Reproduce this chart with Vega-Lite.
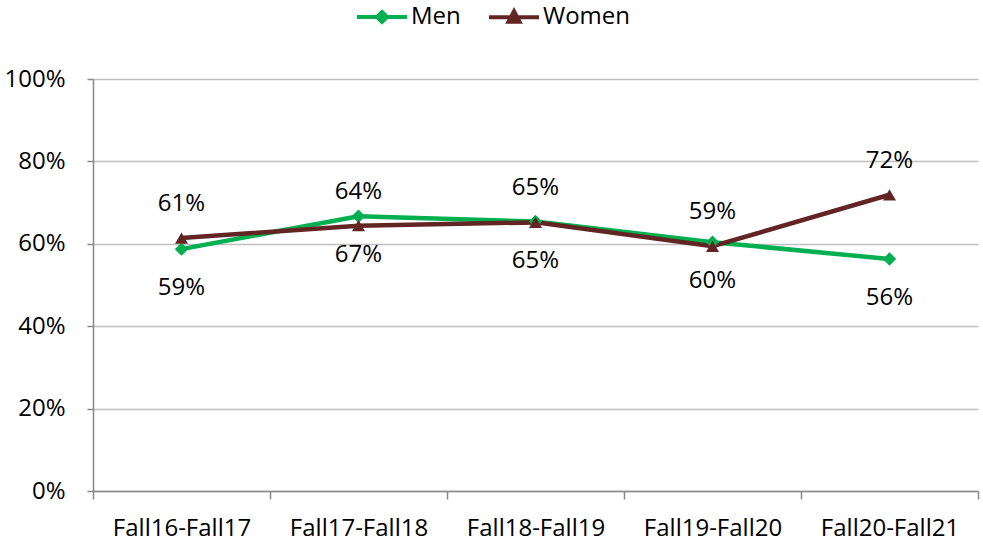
{
  "$schema": "https://vega.github.io/schema/vega-lite/v6.json",
  "autosize": {"type": "none"},
  "width": 885,
  "height": 412,
  "padding": {"left": 93, "top": 79, "right": 5, "bottom": 53},
  "background": "white",
  "config": {
    "view": {"stroke": null},
    "font": "Open Sans",
    "axis": {"labelFont": "Open Sans", "labelFontSize": 24, "labelColor": "#000000", "domainColor": "#898989", "tickColor": "#898989", "gridColor": "#BFBFBF", "domainWidth": 1.5, "tickWidth": 1.5}
  },
  "data": {
    "values": [
      {"period": "Fall16-Fall17", "series": "Men", "value": 0.587},
      {"period": "Fall17-Fall18", "series": "Men", "value": 0.667},
      {"period": "Fall18-Fall19", "series": "Men", "value": 0.654},
      {"period": "Fall19-Fall20", "series": "Men", "value": 0.604},
      {"period": "Fall20-Fall21", "series": "Men", "value": 0.563},
      {"period": "Fall16-Fall17", "series": "Women", "value": 0.614},
      {"period": "Fall17-Fall18", "series": "Women", "value": 0.644},
      {"period": "Fall18-Fall19", "series": "Women", "value": 0.652},
      {"period": "Fall19-Fall20", "series": "Women", "value": 0.594},
      {"period": "Fall20-Fall21", "series": "Women", "value": 0.719}
    ]
  },
  "encoding": {
    "x": {
      "field": "period", "type": "nominal", "sort": null, "title": null,
      "scale": {"paddingInner": 0, "paddingOuter": 0},
      "axis": {"labelAngle": 0, "tickBand": "extent", "tickSize": 8, "labelPadding": 17, "grid": false}
    },
    "y": {
      "field": "value", "type": "quantitative", "title": null,
      "scale": {"domain": [0, 1], "nice": false},
      "axis": {"format": ".0%", "values": [0, 0.2, 0.4, 0.6, 0.8, 1], "tickSize": 6, "labelPadding": 22, "grid": true, "gridWidth": 1.5}
    }
  },
  "layer": [
    {
      "mark": {"type": "line", "strokeWidth": 4.5},
      "encoding": {
        "color": {
          "field": "series", "type": "nominal",
          "scale": {"domain": ["Men", "Women"], "range": ["#00B050", "#632523"]},
          "legend": {
            "title": null, "orient": "none", "direction": "horizontal",
            "legendX": 262, "legendY": -89,
            "labelFontSize": 24, "labelFont": "Open Sans", "labelColor": "#000000",
            "symbolSize": 2500, "symbolStrokeWidth": 4, "columnPadding": 20, "labelOffset": 2,
            "encode": {
              "symbols": {
                "update": {
                  "shape": {"signal": "datum.value == 'Men' ? 'M-1,0L1,0M0,-0.2L0.2,0L0,0.2L-0.2,0Z' : 'M-1,0L1,0M0,-0.24L0.22,0.18L-0.22,0.18Z'"},
                  "fill": {"signal": "scale('color', datum.value)"},
                  "stroke": {"signal": "scale('color', datum.value)"},
                  "strokeWidth": {"value": 4},
                  "fillOpacity": {"value": 1}
                }
              }
            }
          }
        }
      }
    },
    {
      "transform": [{"filter": "datum.series == 'Men'"}],
      "mark": {"type": "point", "filled": true, "opacity": 1, "size": 180, "shape": "diamond", "color": "#00B050"}
    },
    {
      "transform": [{"filter": "datum.series == 'Women'"}],
      "mark": {"type": "point", "filled": true, "opacity": 1, "size": 170, "shape": "triangle-up", "color": "#632523"}
    },
    {
      "transform": [{"filter": "datum.series == 'Men'"}],
      "mark": {"type": "text", "dy": 39, "fontSize": 24, "font": "Open Sans", "color": "#000000"},
      "encoding": {"text": {"field": "value", "type": "quantitative", "format": ".0%"}}
    },
    {
      "transform": [{"filter": "datum.series == 'Women'"}],
      "mark": {"type": "text", "dy": -34, "fontSize": 24, "font": "Open Sans", "color": "#000000"},
      "encoding": {"text": {"field": "value", "type": "quantitative", "format": ".0%"}}
    }
  ]
}
